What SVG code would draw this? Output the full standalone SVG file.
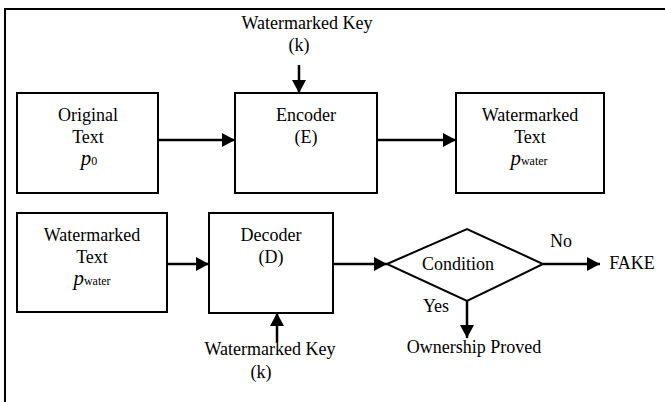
<svg xmlns="http://www.w3.org/2000/svg" width="665" height="402" viewBox="0 0 665 402">
<defs>
<style>
text{font-family:"Liberation Serif","Times New Roman",serif;font-size:18px;fill:#000;text-anchor:middle}
.box{fill:#fff;stroke:#000;stroke-width:2}
.ln{fill:none;stroke:#000;stroke-width:2.5}
.frame{fill:none;stroke:#000;stroke-width:2}
.sub{font-size:12px;font-style:normal}
.it{font-style:italic;font-size:21px}
</style>
<marker id="ah" viewBox="0 0 13 14" refX="13" refY="7" markerWidth="13" markerHeight="14" markerUnits="userSpaceOnUse" orient="auto">
<path d="M0,0 L13,7 L0,14 z" fill="#000"/>
</marker>
</defs>
<rect width="665" height="402" fill="#fff"/>
<path class="frame" d="M5,402 V9 H665"/>

<g id="original-text">
<rect class="box" x="17" y="93" width="141" height="100"/>
<text x="88" y="121">Original</text>
<text x="88" y="143">Text</text>
<text x="89" y="165"><tspan class="it">p</tspan><tspan class="sub">0</tspan></text>
</g>
<g id="encoder">
<rect class="box" x="235" y="93" width="142" height="100"/>
<text x="306" y="121">Encoder</text>
<text x="306" y="143">(E)</text>
</g>
<g id="watermarked-text-1">
<rect class="box" x="456" y="93" width="148" height="100"/>
<text x="530" y="121">Watermarked</text>
<text x="530" y="143">Text</text>
<text x="529" y="165"><tspan class="it">p</tspan><tspan class="sub">water</tspan></text>
</g>
<g id="key-1">
<text x="307" y="29">Watermarked Key</text>
<text x="299" y="51">(k)</text>
</g>

<g id="watermarked-text-2">
<rect class="box" x="17" y="213" width="150" height="99"/>
<text x="92" y="241">Watermarked</text>
<text x="92" y="263">Text</text>
<text x="92" y="285"><tspan class="it">p</tspan><tspan class="sub">water</tspan></text>
</g>
<g id="decoder">
<rect class="box" x="209" y="213" width="124" height="100"/>
<text x="271" y="241">Decoder</text>
<text x="271" y="263">(D)</text>
</g>
<g id="condition">
<path class="box" d="M387,264 L467,229 L543,264 L467,301 Z"/>
<text x="458" y="270">Condition</text>
</g>
<g id="fake">
<text x="632" y="269">FAKE</text>
</g>
<g id="ownership">
<text x="474" y="353">Ownership Proved</text>
</g>
<g id="key-2">
<text x="270" y="355">Watermarked Key</text>
<text x="261" y="378">(k)</text>
</g>

<g id="connectors">
<line class="ln" x1="158" y1="140" x2="235" y2="140" marker-end="url(#ah)"/>
<line class="ln" x1="377" y1="140" x2="456" y2="140" marker-end="url(#ah)"/>
<line class="ln" x1="299" y1="65" x2="299" y2="93" marker-end="url(#ah)"/>
<line class="ln" x1="167" y1="264" x2="209" y2="264" marker-end="url(#ah)"/>
<line class="ln" x1="277" y1="342" x2="277" y2="313" marker-end="url(#ah)"/>
<line class="ln" x1="333" y1="264" x2="387" y2="264" marker-end="url(#ah)"/>
<line class="ln" x1="543" y1="264" x2="600" y2="264" marker-end="url(#ah)"/>
<line class="ln" x1="467" y1="301" x2="467" y2="338" marker-end="url(#ah)"/>
<text x="561" y="247">No</text>
<text x="436" y="312">Yes</text>
</g>
</svg>
